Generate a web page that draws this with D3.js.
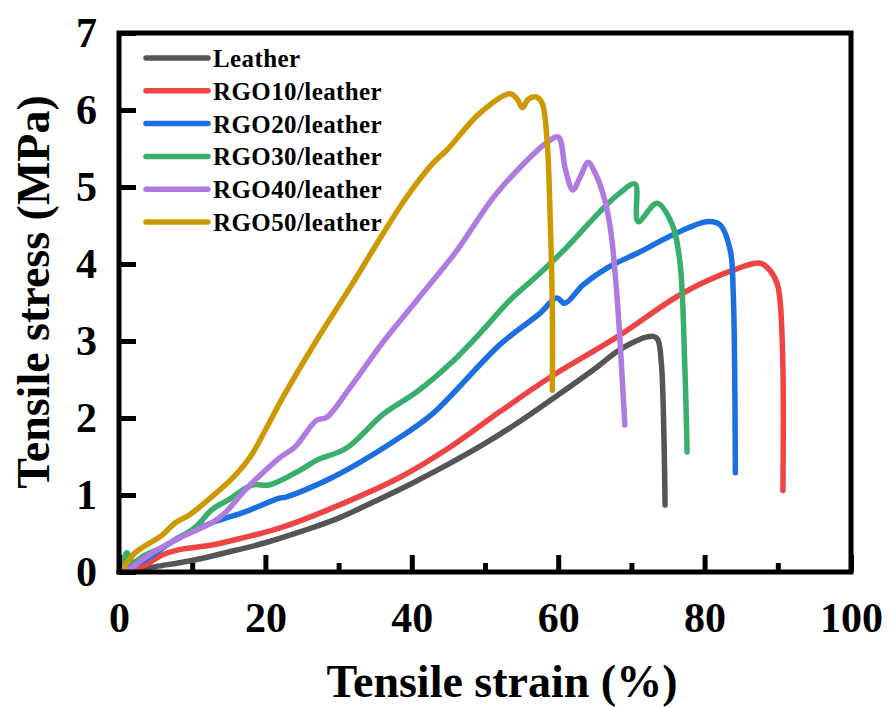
<!DOCTYPE html>
<html>
<head>
<meta charset="utf-8">
<script src="https://cdn.jsdelivr.net/npm/d3@7"></script>
<style>
  body { margin: 0; background: #fff; }
  text { font-family: "Liberation Serif", "Times New Roman", serif; font-weight: bold; }
</style>
</head>
<body>
<svg id="drawing_region"></svg>
<script>
// strain (%) , stress (MPa)
const leather = [[0,0],[2,0.02],[5,0.07],[10,0.15],[15,0.26],[20,0.38],[25,0.53],[30,0.70],[35,0.92],
    [40,1.15],[45,1.40],[50,1.67],[55,1.97],[60,2.30],[65,2.64],[68,2.86],[70,2.97],[72,3.05],[73,3.06],
    [73.6,3.02],[74.1,2.7],[74.3,2.3],[74.5,1.5],[74.6,0.87]];
const rgo10 = [[0,0],[2,0.04],[3.6,0.09],[5.9,0.22],[8.2,0.29],[12.7,0.35],[17.2,0.45],[21.9,0.57],[29.1,0.83],
    [38.4,1.23],[45.2,1.62],[52,2.08],[58.9,2.53],[68,3.05],[77,3.62],[83.9,3.92],[87.6,4.01],[88.9,3.92],
    [89.9,3.75],[90.3,3.53],[90.7,2.66],[90.7,1.06]];
const rgo20 = [[0,0],[3.6,0.16],[8.2,0.45],[12.7,0.64],[17.2,0.78],[21.9,0.96],[22.7,0.97],[29.2,1.23],
    [38.4,1.75],[42.9,2.06],[52,2.95],[57.5,3.36],[59.8,3.56],[60.9,3.49],[63.4,3.73],[66.7,3.95],[71.2,4.16],
    [75.7,4.38],[80.3,4.55],[82.1,4.51],[83.5,4.18],[83.9,3.66],[84.2,1.29]];
const rgo30 = [[0,0],[0.5,0.12],[1.1,0.25],[1.8,0.13],[3.6,0.22],[5.9,0.32],[10.4,0.58],[12.7,0.81],[15,0.94],
    [18.2,1.13],[20.5,1.13],[24.7,1.32],[27,1.45],[31.1,1.61],[36.1,2.05],[40.7,2.34],[45.2,2.7],[49.7,3.14],
    [53.4,3.53],[57.5,3.88],[61.2,4.22],[65.7,4.68],[68.4,4.92],[70.5,5.04],[70.9,4.55],[73.5,4.79],
    [75.5,4.53],[76.6,4.05],[77.3,2.66],[77.6,1.56]];
const rgo40 = [[0,0],[1.8,0.06],[3.6,0.19],[8.2,0.44],[12.7,0.64],[14.5,0.77],[17.2,1.06],[21.9,1.48],[24,1.62],
    [27,1.97],[28.4,2.01],[31.6,2.4],[36.1,2.99],[40.7,3.53],[46.2,4.18],[51.6,4.92],[58.5,5.58],[60,5.65],
    [61,5.22],[62,4.96],[63,5.13],[64.1,5.32],[65,5.19],[66.1,4.92],[67.1,4.48],[68,3.62],[69.1,1.91]];
const rgo50 = [[0,0],[0.4,0.03],[2.2,0.25],[5.9,0.48],[7.7,0.64],[9.6,0.74],[12.7,0.98],[15.6,1.23],[17.9,1.49],
    [20.2,1.88],[22.4,2.27],[27,3.01],[31.6,3.7],[36.1,4.4],[39.3,4.87],[42.9,5.31],[44.8,5.48],[49.3,5.96],
    [53.4,6.21],[54.4,6.14],[55.1,6.03],[55.9,6.14],[57,6.17],[57.8,6.09],[58.5,5.57],[58.9,4.61],[59.2,3.4],
    [59.2,2.36]];

const labels = ['Leather', 'RGO10/leather', 'RGO20/leather', 'RGO30/leather', 'RGO40/leather', 'RGO50/leather'];
const seriesData = [leather, rgo10, rgo20, rgo30, rgo40, rgo50];
const colors = ['#555555', '#f04343', '#1b6fe0', '#3aae6d', '#b07be0', '#cc9a00'];

const xTicks = [0, 20, 40, 60, 80, 100];
const xMinorTicks = [10, 30, 50, 70, 90];
const yTicks = [0, 1, 2, 3, 4, 5, 6, 7];

class StressStrainChart {

    constructor( config ) {
        this.config = {
            parent: config.parent,
            width: config.width || 890,
            height: config.height || 707,
            margin: config.margin || {top: 33, right: 39, bottom: 135, left: 119},
        }
        this.init();
    }

    init() {
        let self = this;
        const m = self.config.margin;

        self.svg = d3.select( self.config.parent )
            .attr('width', self.config.width)
            .attr('height', self.config.height);

        self.inner_width = self.config.width - m.left - m.right;
        self.inner_height = self.config.height - m.top - m.bottom;

        self.chart = self.svg.append('g')
            .attr('transform', `translate(${m.left}, ${m.top})`);

        self.xscale = d3.scaleLinear().domain([0, 100]).range([0, self.inner_width]);
        self.yscale = d3.scaleLinear().domain([0, 7]).range([self.inner_height, 0]);

        self.line = d3.line()
            .x(d => self.xscale(d[0]))
            .y(d => self.yscale(d[1]))
            .curve(d3.curveCatmullRom.alpha(0.5));
    }

    render() {
        let self = this;

        // curves
        self.chart.selectAll('.curve')
            .data(seriesData)
            .enter()
            .append('path')
            .attr('class', 'curve')
            .attr('d', self.line)
            .attr('fill', 'none')
            .attr('stroke', (d, i) => colors[i])
            .attr('stroke-width', 5.5)
            .attr('stroke-linejoin', 'round')
            .attr('stroke-linecap', 'round');

        // x axis (ticks inward)
        const xaxis = self.chart.append('g')
            .attr('transform', `translate(0, ${self.inner_height})`)
            .call(d3.axisBottom(self.xscale).tickValues(xTicks).tickFormat(d3.format('d'))
                .tickSizeInner(-17).tickSizeOuter(0).tickPadding(30));
        self.chart.append('g')
            .attr('transform', `translate(0, ${self.inner_height})`)
            .call(d3.axisBottom(self.xscale).tickValues(xMinorTicks).tickSizeInner(-9).tickSizeOuter(0).tickFormat(''));

        const yaxis = self.chart.append('g')
            .call(d3.axisLeft(self.yscale).tickValues(yTicks).tickFormat(d3.format('d'))
                .tickSizeInner(-17).tickSizeOuter(0).tickPadding(22));

        self.chart.selectAll('.domain').remove();
        self.chart.selectAll('.tick line').attr('stroke', '#000').attr('stroke-width', 5);
        self.chart.selectAll('.tick text')
            .attr('fill', '#000')
            .style('font-size', '42px')
            .style('font-family', '"Liberation Serif", "Times New Roman", serif')
            .style('font-weight', 'bold');

        // frame
        self.chart.append('rect')
            .attr('x', 0).attr('y', 0)
            .attr('width', self.inner_width)
            .attr('height', self.inner_height)
            .attr('fill', 'none')
            .attr('stroke', '#000')
            .attr('stroke-width', 5);

        // axis titles
        self.svg.append('text')
            .attr('x', 502).attr('y', 697)
            .attr('text-anchor', 'middle')
            .attr('font-size', 46)
            .text('Tensile strain (%)');

        self.svg.append('text')
            .attr('transform', 'translate(49, 292) rotate(-90)')
            .attr('text-anchor', 'middle')
            .attr('font-size', 46)
            .text('Tensile stress (MPa)');

        // legend
        const legend = self.svg.append('g');
        const rows = legend.selectAll('g')
            .data(labels)
            .enter()
            .append('g')
            .attr('transform', (d, i) => `translate(146, ${58 + i * 32.8})`);
        rows.append('line')
            .attr('x1', 0).attr('x2', 62)
            .attr('stroke', (d, i) => colors[i])
            .attr('stroke-width', 5.5)
            .attr('stroke-linecap', 'round');
        rows.append('text')
            .attr('x', 67).attr('y', 9)
            .attr('font-size', 25)
            .attr('letter-spacing', 0.4)
            .text(d => d);
    }
}

const chart = new StressStrainChart({ parent: '#drawing_region', width: 890, height: 707 });
chart.render();
</script>
</body>
</html>
